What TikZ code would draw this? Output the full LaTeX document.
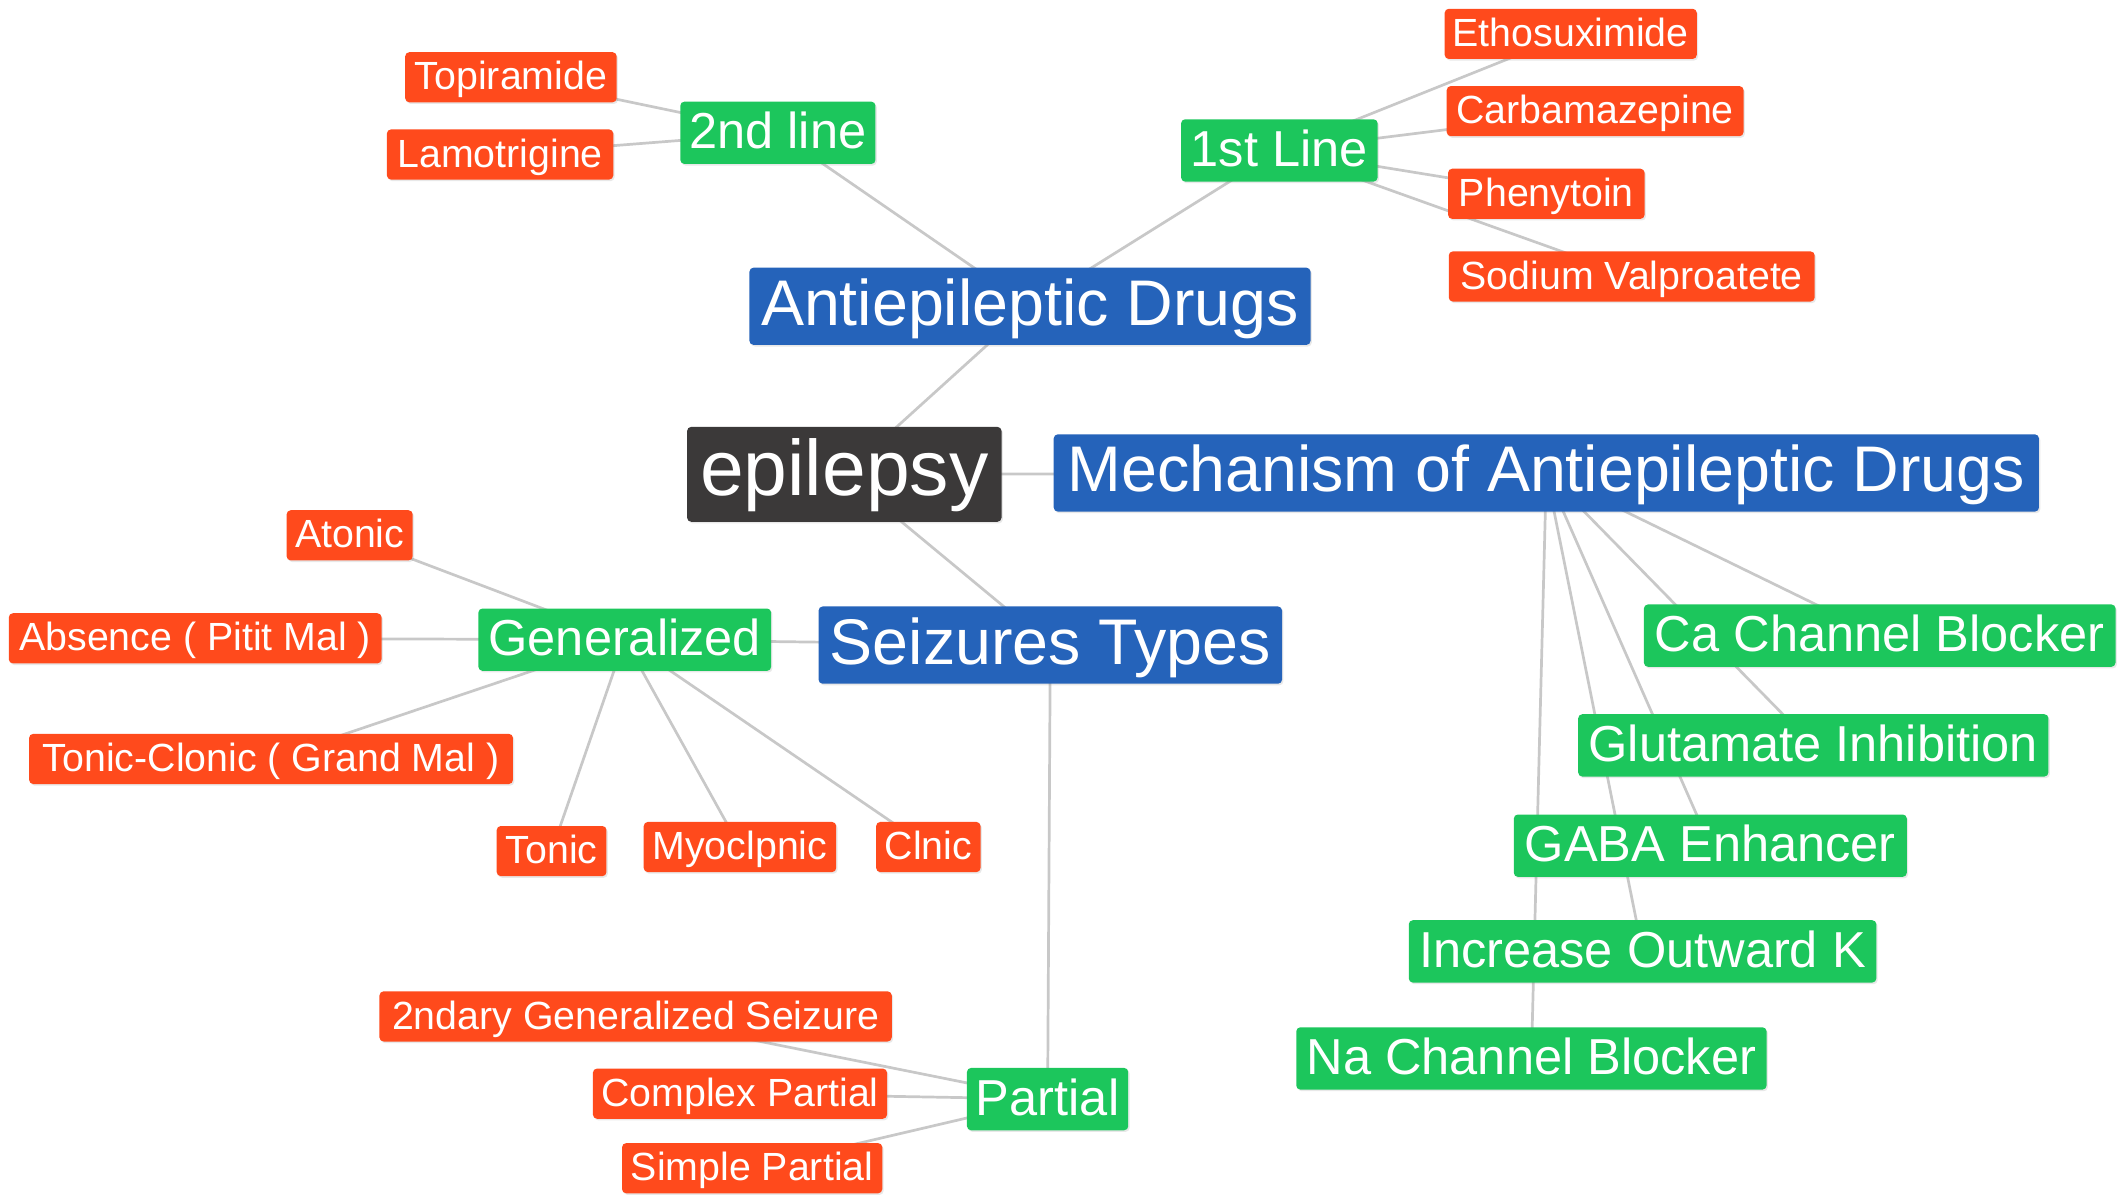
\documentclass[tikz,border=0pt]{standalone}
\usepackage{fontspec}
\setmainfont{Liberation Sans}
\usetikzlibrary{backgrounds,shadows}
\definecolor{cred}{HTML}{FF4A1C}
\definecolor{cgreen}{HTML}{1CC65C}
\definecolor{cblue}{HTML}{2563BA}
\definecolor{cdark}{HTML}{3B3939}
\definecolor{cedge}{HTML}{C8C8C8}
\tikzset{
 box/.style={rounded corners=3pt, inner sep=0pt, text=white, align=center,
   drop shadow={opacity=0.18, shadow xshift=1pt, shadow yshift=-1.2pt}},
 rootbox/.style={box, fill=cdark, font=\fontsize{58}{60}\selectfont, minimum height=70pt, text height=43.5pt, text depth=12.8pt},
 bluebox/.style={box, fill=cblue, font=\fontsize{47.6}{50}\selectfont, minimum height=57pt, text height=38.5pt, text depth=10.5pt},
 greenbox/.style={box, fill=cgreen, font=\fontsize{37.3}{40}\selectfont, minimum height=46pt, text height=32pt, text depth=8.2pt},
 redbox/.style={box, fill=cred, font=\fontsize{29}{31}\selectfont, minimum height=37pt, text height=25pt, text depth=6.4pt},
 link/.style={draw=cedge, line width=2pt},
}
\begin{document}
\begin{tikzpicture}[x=1pt, y=-1pt]
\useasboundingbox (0,0) rectangle (1568,883);
% root and main topics
\node[rootbox, minimum width=232pt] (epi) at (623,350) {epilepsy};
\node[bluebox, minimum width=414pt] (anti) at (760,226) {Antiepileptic Drugs};
\node[bluebox, minimum width=727pt] (mech) at (1141,349) {Mechanism of Antiepileptic Drugs};
\node[bluebox, minimum width=342pt] (seiz) at (775,476) {Seizures Types};
% green
\node[greenbox, minimum width=145pt] (first) at (944,111) {1st Line};
\node[greenbox, minimum width=144pt] (second) at (574,98) {2nd line};
\node[greenbox, minimum width=216pt] (gen) at (461,472) {Generalized};
\node[greenbox, minimum width=119pt] (partial) at (773,811) {Partial};
\node[greenbox, minimum width=348pt] (ca) at (1387,469) {Ca Channel Blocker};
\node[greenbox, minimum width=347pt] (glu) at (1338,550) {Glutamate Inhibition};
\node[greenbox, minimum width=290pt] (gaba) at (1262,624) {GABA Enhancer};
\node[greenbox, minimum width=345pt] (inc) at (1212,702) {Increase Outward K};
\node[greenbox, minimum width=347pt] (na) at (1130,781) {Na Channel Blocker};
% red
\node[redbox, minimum width=156pt] (topi) at (377,57) {Topiramide};
\node[redbox, minimum width=167pt] (lamo) at (369,114) {Lamotrigine};
\node[redbox, minimum width=186pt] (etho) at (1159,25) {Ethosuximide};
\node[redbox, minimum width=219pt] (carb) at (1177,82) {Carbamazepine};
\node[redbox, minimum width=145pt] (phen) at (1141,143) {Phenytoin};
\node[redbox, minimum width=270pt] (sodi) at (1204,204) {Sodium Valproatete};
\node[redbox, minimum width=93pt] (aton) at (258,395) {Atonic};
\node[redbox, minimum width=275pt] (abse) at (144,471) {Absence ( Pitit Mal )};
\node[redbox, minimum width=357pt] (toncl) at (200,560) {Tonic-Clonic ( Grand Mal )};
\node[redbox, minimum width=81pt] (toni) at (407,628) {Tonic};
\node[redbox, minimum width=142pt] (myoc) at (546,625) {Myoclpnic};
\node[redbox, minimum width=77pt] (clni) at (685,625) {Clnic};
\node[redbox, minimum width=378pt] (sec) at (469,750) {2ndary Generalized Seizure};
\node[redbox, minimum width=217pt] (comp) at (546,807) {Complex Partial};
\node[redbox, minimum width=192pt] (simp) at (555,862) {Simple Partial};
% connectors
\begin{pgfonlayer}{background}
\foreach \a/\b in {epi/anti, epi/mech, epi/seiz, anti/second, anti/first,
  second/topi, second/lamo, first/etho, first/carb, first/phen, first/sodi,
  seiz/gen, seiz/partial, gen/aton, gen/abse, gen/toncl, gen/toni, gen/myoc, gen/clni,
  partial/sec, partial/comp, partial/simp,
  mech/ca, mech/glu, mech/gaba, mech/inc, mech/na}
  \draw[link] (\a.center) -- (\b.center);
\end{pgfonlayer}
\end{tikzpicture}
\end{document}
